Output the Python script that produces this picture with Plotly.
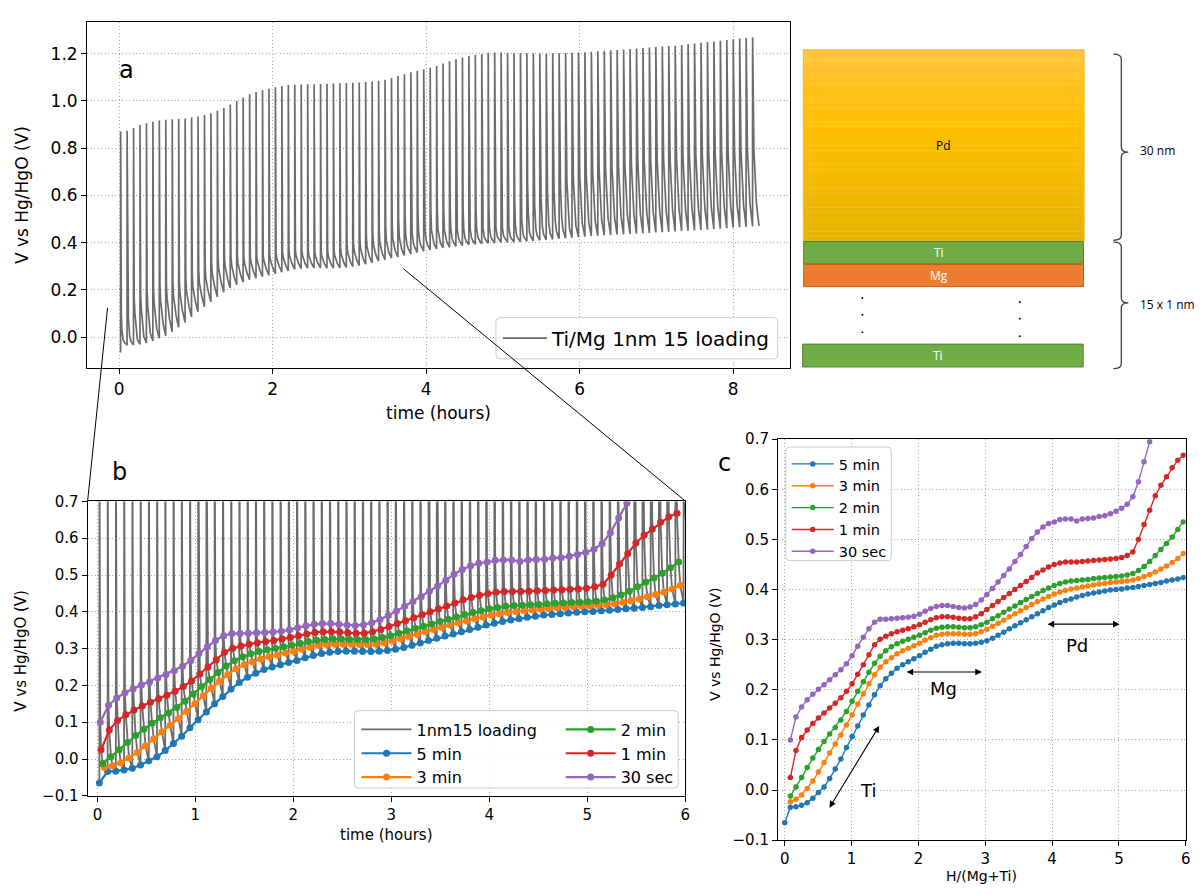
import plotly.graph_objects as go

W, H = 1204, 895
FONT = "DejaVu Sans"
GRAY = "#6b6b6b"
C_BLUE, C_ORANGE, C_GREEN, C_RED, C_PURPLE = "#1f77b4", "#ff7f0e", "#2ca02c", "#d62728", "#9467bd"

# ---------------- data ----------------
pulse_period_h = 0.084      # time between current pulses (hours)
pulse_start_h = 0.02        # first pulse
pulse_len_h = 0.0007        # pulse duration (hours)
h_per_pulse = 0.084         # H/(Mg+Ti) added per pulse
relax_minutes = [0.5, 1, 2, 3, 5]

# relaxed potential (V) after each pulse; v_5min index 0 is the value before the first pulse
v_5min = [-0.065, -0.034, -0.033, -0.030, -0.025, -0.016, -0.005, 0.006, 0.023, 0.042,
          0.062, 0.085, 0.107, 0.128, 0.150, 0.170, 0.190, 0.208, 0.222, 0.233,
          0.243, 0.250, 0.256, 0.262, 0.268, 0.275, 0.281, 0.287, 0.290, 0.292,
          0.293, 0.293, 0.292, 0.292, 0.293, 0.295, 0.298, 0.303, 0.309, 0.315,
          0.322, 0.328, 0.334, 0.340, 0.346, 0.352, 0.358, 0.364, 0.369, 0.374,
          0.378, 0.381, 0.385, 0.388, 0.391, 0.393, 0.395, 0.397, 0.399, 0.400,
          0.401, 0.403, 0.404, 0.406, 0.408, 0.410, 0.412, 0.414, 0.417, 0.419,
          0.421, 0.424]
v_3min = [-0.023, -0.018, -0.010, 0.003, 0.018, 0.036, 0.055, 0.074, 0.092, 0.110,
          0.130, 0.150, 0.172, 0.192, 0.212, 0.230, 0.245, 0.256, 0.264, 0.272,
          0.278, 0.283, 0.288, 0.293, 0.299, 0.304, 0.309, 0.311, 0.312, 0.312,
          0.312, 0.311, 0.311, 0.312, 0.316, 0.321, 0.327, 0.333, 0.339, 0.346,
          0.352, 0.358, 0.364, 0.370, 0.376, 0.381, 0.386, 0.391, 0.395, 0.398,
          0.401, 0.403, 0.405, 0.407, 0.409, 0.411, 0.412, 0.414, 0.415, 0.416,
          0.417, 0.419, 0.422, 0.426, 0.430, 0.435, 0.441, 0.447, 0.454, 0.462, 0.472]
v_2min = [-0.012, 0.006, 0.025, 0.045, 0.064, 0.081, 0.097, 0.112, 0.125, 0.140,
          0.157, 0.177, 0.197, 0.216, 0.235, 0.253, 0.267, 0.278, 0.286, 0.292,
          0.297, 0.301, 0.305, 0.309, 0.314, 0.319, 0.323, 0.325, 0.326, 0.326,
          0.325, 0.324, 0.324, 0.326, 0.330, 0.335, 0.342, 0.348, 0.355, 0.361,
          0.367, 0.374, 0.380, 0.386, 0.392, 0.398, 0.403, 0.408, 0.412, 0.415,
          0.417, 0.418, 0.419, 0.420, 0.422, 0.423, 0.424, 0.425, 0.426, 0.427,
          0.429, 0.432, 0.438, 0.446, 0.456, 0.468, 0.480, 0.492, 0.505, 0.520, 0.535]
v_1min = [0.025, 0.079, 0.105, 0.120, 0.133, 0.144, 0.154, 0.164, 0.173, 0.184,
          0.197, 0.212, 0.231, 0.250, 0.270, 0.290, 0.301, 0.307, 0.312, 0.316,
          0.319, 0.322, 0.326, 0.330, 0.335, 0.340, 0.344, 0.346, 0.346, 0.345,
          0.343, 0.342, 0.342, 0.346, 0.352, 0.360, 0.368, 0.376, 0.384, 0.392,
          0.400, 0.408, 0.416, 0.424, 0.433, 0.439, 0.445, 0.450, 0.453, 0.455,
          0.455, 0.455, 0.456, 0.457, 0.458, 0.459, 0.460, 0.461, 0.462, 0.464,
          0.468, 0.475, 0.500, 0.530, 0.558, 0.587, 0.608, 0.625, 0.643, 0.658, 0.668]
v_30sec = [0.100, 0.146, 0.166, 0.180, 0.191, 0.201, 0.210, 0.220, 0.230, 0.240,
           0.252, 0.268, 0.287, 0.305, 0.322, 0.335, 0.341, 0.341, 0.342, 0.343,
           0.344, 0.345, 0.347, 0.351, 0.357, 0.362, 0.366, 0.368, 0.368, 0.366,
           0.364, 0.363, 0.365, 0.370, 0.379, 0.390, 0.402, 0.415, 0.428, 0.441,
           0.456, 0.470, 0.486, 0.502, 0.515, 0.525, 0.532, 0.535, 0.540, 0.541,
           0.541, 0.537, 0.541, 0.542, 0.543, 0.546, 0.547, 0.551, 0.556, 0.562,
           0.570, 0.585, 0.615, 0.655, 0.695]

# full loading run (panel a): peak potential of each pulse
loading_peak = [0.871, 0.874, 0.885, 0.898, 0.905, 0.912, 0.917, 0.920, 0.922, 0.923,
                0.926, 0.930, 0.934, 0.940, 0.948, 0.958, 0.970, 0.985, 1.000, 1.015,
                1.028, 1.038, 1.045, 1.052, 1.058, 1.063, 1.067, 1.069, 1.070, 1.071,
                1.071, 1.072, 1.073, 1.074, 1.075, 1.076, 1.077, 1.078, 1.080, 1.082,
                1.085, 1.090, 1.097, 1.105, 1.113, 1.121, 1.128, 1.134, 1.140, 1.148,
                1.158, 1.168, 1.176, 1.184, 1.190, 1.196, 1.200, 1.204, 1.205, 1.205,
                1.204, 1.203, 1.202, 1.202, 1.201, 1.201, 1.201, 1.202, 1.202, 1.203,
                1.204, 1.205, 1.206, 1.208, 1.210, 1.212, 1.214, 1.216, 1.218, 1.220,
                1.222, 1.224, 1.226, 1.228, 1.230, 1.232, 1.234, 1.237, 1.240, 1.243,
                1.246, 1.249, 1.252, 1.255, 1.258, 1.261, 1.264, 1.266, 1.268]
# relaxation after the pulses beyond 6 h (panel a only)
late_1min = [0.678, 0.688, 0.697, 0.705, 0.712, 0.718, 0.724, 0.729, 0.734, 0.738,
             0.742, 0.746, 0.750, 0.753, 0.757, 0.760, 0.763, 0.766, 0.769, 0.772,
             0.775, 0.778, 0.781, 0.784, 0.787, 0.790, 0.793, 0.796]
late_3min = [0.478, 0.484, 0.490, 0.495, 0.500, 0.505, 0.509, 0.513, 0.517, 0.520,
             0.523, 0.526, 0.529, 0.532, 0.534, 0.537, 0.539, 0.542, 0.544, 0.546,
             0.549, 0.551, 0.553, 0.556, 0.558, 0.560, 0.563, 0.565]
late_5min = [0.426, 0.428, 0.429, 0.431, 0.432, 0.434, 0.435, 0.437, 0.438, 0.440,
             0.441, 0.443, 0.444, 0.446, 0.447, 0.449, 0.450, 0.452, 0.454, 0.455,
             0.457, 0.459, 0.461, 0.463, 0.465, 0.467, 0.469, 0.471]

series = [  # (label, values, first pulse index, relax minutes, colour)
    ("5 min", v_5min, 0, 5, C_BLUE),
    ("3 min", v_3min, 1, 3, C_ORANGE),
    ("2 min", v_2min, 1, 2, C_GREEN),
    ("1 min", v_1min, 1, 1, C_RED),
    ("30 sec", v_30sec, 1, 0.5, C_PURPLE),
]

# ---------------- helpers ----------------
def px(x):
    return x / W

def py(y):
    return 1 - y / H

def pulse_end(j):
    return pulse_start_h + j * pulse_period_h + pulse_len_h

def series_time(i, minutes):
    if i == 0:
        return pulse_start_h
    return pulse_end(i - 1) + minutes / 60.0

def val(arr, first, i):
    k = i - first
    return arr[k] if 0 <= k < len(arr) else None

# ---------------- loading curve (gray) ----------------
v5_all = v_5min + late_5min
v3_all = v_3min + late_3min
v1_all = v_1min + late_1min
relax_sets = [(v_30sec, 1), (v1_all, 1), (v_2min, 1), (v3_all, 1), (v5_all, 0)]
gx, gy = [pulse_start_h], [v5_all[0]]
for j, pk in enumerate(loading_peak):
    e = pulse_end(j)
    gx.append(e)
    gy.append(pk)
    for m, (arr, first) in zip(relax_minutes, relax_sets):
        v = val(arr, first, j + 1)
        if v is not None:
            gx.append(e + m / 60.0)
            gy.append(v)

fig = go.Figure()
fig.add_trace(go.Scatter(x=gx, y=gy, mode="lines", line=dict(color=GRAY, width=1.7),
                         name="Ti/Mg 1nm 15 loading", xaxis="x", yaxis="y", legend="legend"))
fig.add_trace(go.Scatter(x=gx, y=gy, mode="lines", line=dict(color=GRAY, width=1.8),
                         name="1nm15 loading", xaxis="x2", yaxis="y2", legend="legend2"))

for label, arr, first, m, col in series:
    tx = [series_time(first + k, m) for k in range(len(arr))]
    fig.add_trace(go.Scatter(x=tx, y=arr, mode="lines+markers", name=label,
                             line=dict(color=col, width=2.2), marker=dict(color=col, size=7),
                             xaxis="x2", yaxis="y2",
                             legend="legend2" if label in ("5 min", "3 min") else "legend3"))

for label, arr, first, m, col in series:
    hx = [(first + k) * h_per_pulse for k in range(len(arr))]
    fig.add_trace(go.Scatter(x=hx, y=arr, mode="lines+markers", name=label,
                             line=dict(color=col, width=1.4), marker=dict(color=col, size=5.5),
                             xaxis="x3", yaxis="y3", legend="legend4"))

# ---------------- axes ----------------
def axis(tsize, **kw):
    d = dict(showline=True, linecolor="black", linewidth=1.2, mirror=True,
             ticks="outside", ticklen=5, tickwidth=1.2, tickcolor="black",
             showgrid=True, gridcolor="#a8a8a8", griddash="1px,2.5px", gridwidth=1,
             zeroline=False, tickfont=dict(family=FONT, size=tsize, color="black"))
    d.update(kw)
    return d

fig.update_layout(
    xaxis=axis(17, domain=[px(87.5), px(793)], range=[-0.416, 8.736], dtick=2, anchor="y"),
    yaxis=axis(17, domain=[py(366.7), py(13.3)], range=[-0.132, 1.334], dtick=0.2,
               tickformat=".1f", anchor="x"),
    xaxis2=axis(15, domain=[px(88), px(688)], range=[-0.1, 6.0], dtick=1, anchor="y2"),
    yaxis2=axis(15, domain=[py(803), py(502.5)], range=[-0.1, 0.7], dtick=0.1,
                tickformat=".1f", anchor="x2"),
    xaxis3=axis(15, domain=[px(781.3), px(1190.7)], range=[-0.1, 6.0], dtick=1, anchor="y3"),
    yaxis3=axis(15, domain=[py(848.3), py(439)], range=[-0.1, 0.7], dtick=0.1,
                tickformat=".1f", anchor="x3"),
)

# ---------------- legends ----------------
def leg(x, y, size, iw=38):
    return dict(x=px(x), y=py(y), xanchor="left", yanchor="top", bgcolor="rgba(0,0,0,0)",
                borderwidth=0, font=dict(family=FONT, size=size, color="black"),
                itemwidth=iw, tracegroupgap=0, itemclick=False, itemdoubleclick=False)

fig.update_layout(
    legend=leg(500, 316, 20, 44),
    legend2=leg(358, 718, 16, 50),
    legend3=leg(563, 718, 16, 50),
    legend4=leg(790, 448, 14.5, 42),
)

shapes = []

def rounded(x0, y0, x1, y1, r=4, fill="rgba(255,255,255,0.85)", line="#cccccc"):
    pts = (f"M {px(x0+r)},{py(y0)} L {px(x1-r)},{py(y0)} Q {px(x1)},{py(y0)} {px(x1)},{py(y0+r)} "
           f"L {px(x1)},{py(y1-r)} Q {px(x1)},{py(y1)} {px(x1-r)},{py(y1)} "
           f"L {px(x0+r)},{py(y1)} Q {px(x0)},{py(y1)} {px(x0)},{py(y1-r)} "
           f"L {px(x0)},{py(y0+r)} Q {px(x0)},{py(y0)} {px(x0+r)},{py(y0)} Z")
    return dict(type="path", xref="paper", yref="paper", path=pts, fillcolor=fill,
                line=dict(color=line, width=1), layer="above")

shapes.append(rounded(498, 315, 781, 357))
shapes.append(rounded(356, 716, 681, 795))
shapes.append(rounded(789, 447, 895, 563))

# connector lines between panels a and b
shapes.append(dict(type="line", xref="paper", yref="paper", x0=px(88), y0=py(502), x1=px(108), y1=py(305),
                   line=dict(color="black", width=1), layer="above"))
shapes.append(dict(type="line", xref="paper", yref="paper", x0=px(688), y0=py(502), x1=px(405), y1=py(265),
                   line=dict(color="black", width=1), layer="above"))

# ---------------- layer schematic ----------------
nb = 40
top, bot = 41.7, 236.7
for b in range(nb):
    f = (b + 0.5) / nb
    if f < 0.4:
        g = f / 0.4
        c = (255, int(198 - 6 * g), int(62 - 62 * g))
    else:
        g = (f - 0.4) / 0.6
        c = (int(255 - 25 * g), int(192 - 12 * g), 0)
    y0 = top + (bot - top) * b / nb
    y1 = top + (bot - top) * (b + 1) / nb + 0.3
    shapes.append(dict(type="rect", xref="paper", yref="paper", x0=px(806.7), x1=px(1088.7),
                       y0=py(y1), y1=py(y0), fillcolor=f"rgb{c}", line=dict(width=0)))
shapes.append(dict(type="rect", xref="paper", yref="paper", x0=px(806.7), x1=px(1088.7),
                   y0=py(bot), y1=py(top), line=dict(color="#f2b830", width=1)))
for (x0, x1, y0, y1, fc, lc) in [(807, 1088, 237.3, 260, "#70ad47", "#548235"),
                                  (807, 1088, 260.7, 283.3, "#ed7d31", "#c55a11"),
                                  (806, 1087.7, 342, 365.3, "#70ad47", "#548235")]:
    shapes.append(dict(type="rect", xref="paper", yref="paper", x0=px(x0), x1=px(x1),
                       y0=py(y1), y1=py(y0), fillcolor=fc, line=dict(color=lc, width=1)))
for (dx, dy) in [(866, 295), (866, 312), (866, 330), (1024, 299), (1024, 316), (1024, 334)]:
    shapes.append(dict(type="circle", xref="paper", yref="paper", x0=px(dx - 1), x1=px(dx + 1),
                       y0=py(dy + 1), y1=py(dy - 1), fillcolor="black", line=dict(width=0)))

def brace(x0, xm, xt, y0, ym, y1, r=5):
    p = (f"M {px(x0)},{py(y0)} Q {px(xm)},{py(y0)} {px(xm)},{py(y0+r)} "
         f"L {px(xm)},{py(ym-r)} Q {px(xm)},{py(ym)} {px(xt)},{py(ym)} "
         f"Q {px(xm)},{py(ym)} {px(xm)},{py(ym+r)} "
         f"L {px(xm)},{py(y1-r)} Q {px(xm)},{py(y1)} {px(x0)},{py(y1)}")
    return dict(type="path", xref="paper", yref="paper", path=p, line=dict(color="#404040", width=1.3))

shapes.append(brace(1118, 1126, 1133, 46, 146, 236))
shapes.append(brace(1118, 1126, 1133, 238, 300, 367))

fig.update_layout(shapes=shapes)

# ---------------- annotations ----------------
ann = []

def text(x, y, s, size, color="black", angle=0, xanchor="center", family=FONT):
    ann.append(dict(x=px(x), y=py(y), xref="paper", yref="paper", text=s, showarrow=False,
                    font=dict(family=family, size=size, color=color), textangle=angle,
                    xanchor=xanchor, yanchor="middle"))

text(127, 62, "a", 24)
text(120, 472, "b", 24)
text(728, 463, "c", 24)
text(22, 190, "V vs Hg/HgO (V)", 17, angle=-90)
text(440, 412, "time (hours)", 17)
text(21, 655, "V vs Hg/HgO (V)", 15, angle=-90)
text(388, 843, "time (hours)", 15)
text(718, 648, "V vs Hg/HgO (V)", 14, angle=-90)
text(986, 885, "H/(Mg+Ti)", 14)

SF = "Open Sans"
text(947, 139, "Pd", 12, family=SF)
text(943, 248, "Ti", 12, color="white", family=SF)
text(943, 272, "Mg", 12, color="white", family=SF)
text(942, 354, "Ti", 12, color="white", family=SF)
text(1143, 144, "30 nm", 12, xanchor="left", family=SF)
text(1143, 302, "15 x 1 nm", 12, xanchor="left", family=SF)

# double arrows in panel c
for (xa, ya, xb, yb) in [(0.655, -0.038, 1.414, 0.128), (1.80, 0.2355, 2.95, 0.2355), (3.91, 0.331, 5.01, 0.331)]:
    ann.append(dict(x=xb, y=yb, ax=xa, ay=ya, xref="x3", yref="y3", axref="x3", ayref="y3",
                    showarrow=True, arrowhead=2, startarrowhead=2, arrowside="end+start",
                    arrowsize=1.2, startarrowsize=1.2, arrowwidth=1.1, arrowcolor="black", text=""))
for (tx, ty, s) in [(1.25, 0.0, "Ti"), (2.37, 0.203, "Mg"), (4.37, 0.289, "Pd")]:
    ann.append(dict(x=tx, y=ty, xref="x3", yref="y3", text=s, showarrow=False,
                    font=dict(family=FONT, size=18, color="black")))

fig.update_layout(annotations=ann)

fig.update_layout(width=W, height=H, autosize=False, margin=dict(l=0, r=0, t=0, b=0),
                  paper_bgcolor="white", plot_bgcolor="white", showlegend=True,
                  font=dict(family=FONT, color="black"))

fig.write_html("out.html")
